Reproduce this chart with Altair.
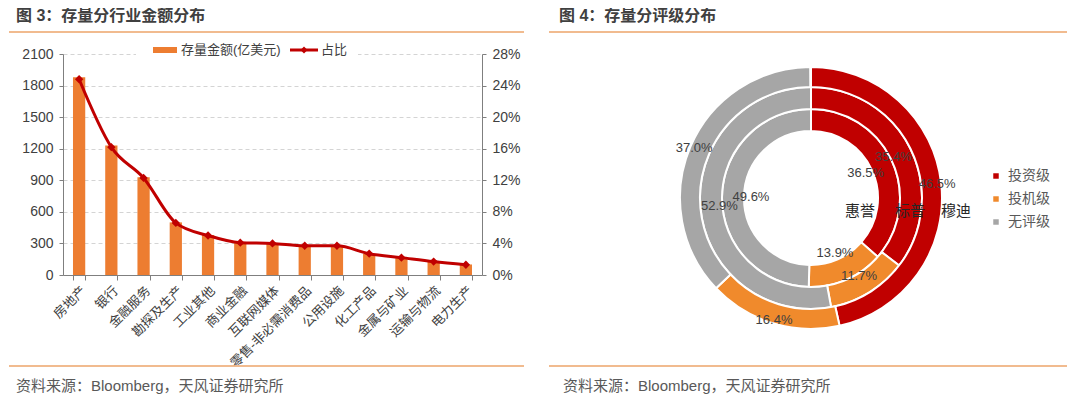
import altair as alt
import pandas as pd

FONT = "Liberation Sans, Noto Sans CJK SC, sans-serif"

# ---------------- data ----------------
industries = ["房地产", "银行", "金融服务", "勘探及生产", "工业其他", "商业金融", "互联网媒体",
              "零售-非必需消费品", "公用设施", "化工产品", "金属与矿业", "运输与物流", "电力生产"]
amounts = [1880, 1230, 930, 500, 380, 310, 300, 280, 280, 200, 160, 130, 100]
shares = [0.248, 0.162, 0.123, 0.066, 0.050, 0.041, 0.040, 0.037, 0.037, 0.027, 0.022, 0.017, 0.013]
series_names = ["存量金额(亿美元)", "占比"]
left_ticks = [0, 300, 600, 900, 1200, 1500, 1800, 2100]
right_ticks = [0, 0.04, 0.08, 0.12, 0.16, 0.20, 0.24, 0.28]

ring_names = ["惠誉", "标普", "穆迪"]
grade_names = ["投资级", "投机级", "无评级"]
fitch = [36.5, 13.9, 49.6]
sp = [35.4, 11.7, 52.9]
moodys = [46.5, 16.4, 37.0]

titles = ["图 3：存量分行业金额分布", "图 4：存量分评级分布"]
source = "资料来源：Bloomberg，天风证券研究所"

# ---------------- styles ----------------
BAR = "#ED7D31"
LINE = "#C00000"
RED = "#C00000"
ORANGE = "#F08A2C"
GRAY = "#A6A6A6"
RULE = "#EDA46A"
TXT = "#404040"


def one():
    return alt.Data(values=[{}])


def text(s, x, y, size, color=TXT, weight="normal", align="left"):
    return alt.Chart(one()).mark_text(
        text=s, align=align, baseline="middle", fontSize=size, color=color,
        fontWeight=weight, font=FONT
    ).encode(x=alt.value(x), y=alt.value(y))


def hrule(x1, x2, y, color=RULE, width=1.5):
    return alt.Chart(one()).mark_rule(color=color, strokeWidth=width).encode(
        x=alt.value(x1), x2=alt.value(x2), y=alt.value(y))


def rect(x1, x2, y1, y2, color):
    return alt.Chart(one()).mark_rect(color=color).encode(
        x=alt.value(x1), x2=alt.value(x2), y=alt.value(y1), y2=alt.value(y2))


# ---------------- left panel ----------------
W1, H1 = 419, 221
df = pd.DataFrame({"industry": industries, "amount": amounts, "share": shares})

xenc = alt.X("industry:N", sort=industries,
             scale=alt.Scale(paddingInner=0.62, paddingOuter=0.31),
             axis=alt.Axis(title=None, labelAngle=315, tickBand="extent", labelFontSize=13,
                           labelPadding=4, tickSize=5, labelColor=TXT, domainColor="#7F7F7F",
                           tickColor="#7F7F7F"))

bars = alt.Chart(df).mark_bar(color=BAR).encode(
    x=xenc,
    y=alt.Y("amount:Q", scale=alt.Scale(domain=[0, 2100], nice=False),
            axis=alt.Axis(title=None, values=left_ticks, format="d", grid=True, gridDash=[4, 3],
                          gridColor="#D4D4D4", tickSize=4, labelPadding=6, labelFontSize=14,
                          labelColor=TXT, domainColor="#7F7F7F", tickColor="#7F7F7F"))
)

yr = alt.Y("share:Q", scale=alt.Scale(domain=[0, 0.28], nice=False),
           axis=alt.Axis(title=None, orient="right", values=right_ticks, format=".0%", grid=False,
                         tickSize=4, labelPadding=6, labelFontSize=14, labelColor=TXT,
                         domainColor="#7F7F7F", tickColor="#7F7F7F"))
line = alt.Chart(df).mark_line(color=LINE, strokeWidth=3, interpolate="monotone").encode(x=xenc, y=yr)
pts = alt.Chart(df).mark_point(shape="diamond", filled=True, size=70, color=LINE, opacity=1).encode(x=xenc, y=yr)
line_layer = alt.layer(line, pts)

legend_left = [
    rect(73, 295, -12, 6, "white"),
    rect(90, 114, -7, -1, BAR),
    text(series_names[0], 118, -4, 13),
    hrule(227, 255, -4, LINE, 3),
    alt.Chart(one()).mark_point(shape="diamond", filled=True, size=50, color=LINE, opacity=1).encode(
        x=alt.value(241), y=alt.value(-4)),
    text(series_names[1], 258, -4, 13),
]

left = alt.layer(
    bars, line_layer, *legend_left,
    text(titles[0], -47, -38, 16, weight="bold"),
    hrule(-54, 461, -22),
    hrule(-54, 461, 312),
    text(source, -47, 332, 15, color="#595959"),
).resolve_scale(y="independent").properties(width=W1, height=H1)

# ---------------- right panel ----------------
W2, H2 = 514, 288
rows = []
for rname, vals in zip(ring_names, [fitch, sp, moodys]):
    for i, (g, v) in enumerate(zip(grade_names, vals)):
        rows.append({"ring": rname, "grade": g, "idx": i, "value": v})
ddf = pd.DataFrame(rows)

color = alt.Color("grade:N", scale=alt.Scale(domain=grade_names, range=[RED, ORANGE, GRAY]),
                  legend=alt.Legend(title=None, orient="none", legendX=926, legendY=115,
                                    symbolType="square", symbolSize=30, symbolStrokeWidth=0,
                                    labelFontSize=14, labelFont=FONT, labelColor="#595959",
                                    rowPadding=9, labelOffset=5))

radii = {"惠誉": (67, 89, 60), "标普": (89, 111, 92), "穆迪": (111, 131, 127)}
donut_layers = []
for rname in ring_names:
    r1, r2, lr = radii[rname]
    b = alt.Chart(ddf).transform_filter(alt.datum.ring == rname)
    donut_layers.append(
        b.mark_arc(radius=r2, radius2=r1, stroke="white", strokeWidth=2).encode(
            theta=alt.Theta("value:Q", stack=True), color=color, order=alt.Order("idx:Q"))
    )
for rname in ring_names:
    r1, r2, lr = radii[rname]
    b = alt.Chart(ddf).transform_filter(alt.datum.ring == rname)
    donut_layers.append(
        b.transform_calculate(t="format(datum.value, '.1f') + '%'").mark_text(
            radius=lr, fontSize=13, color=TXT, font=FONT).encode(
            theta=alt.Theta("value:Q", stack=True), order=alt.Order("idx:Q"), text="t:N")
    )

ring_label_x = [306, 356, 402]
ring_texts = [text(n, x, 157, 15, color="#262626", align="center") for n, x in zip(ring_names, ring_label_x)]

right = alt.layer(
    *donut_layers, *ring_texts,
    text(titles[1], 5, -38, 16, weight="bold"),
    hrule(-5, 513, -22),
    hrule(-5, 513, 312),
    text(source, 9, 332, 15, color="#595959"),
).properties(width=W2, height=H2)

chart = alt.hconcat(left, right, spacing=72, bounds="flush", padding=0).configure(
    font=FONT).configure_view(strokeWidth=0, strokeOpacity=0)

chart.save("out.html", embed_options={"renderer": "svg", "actions": False})
